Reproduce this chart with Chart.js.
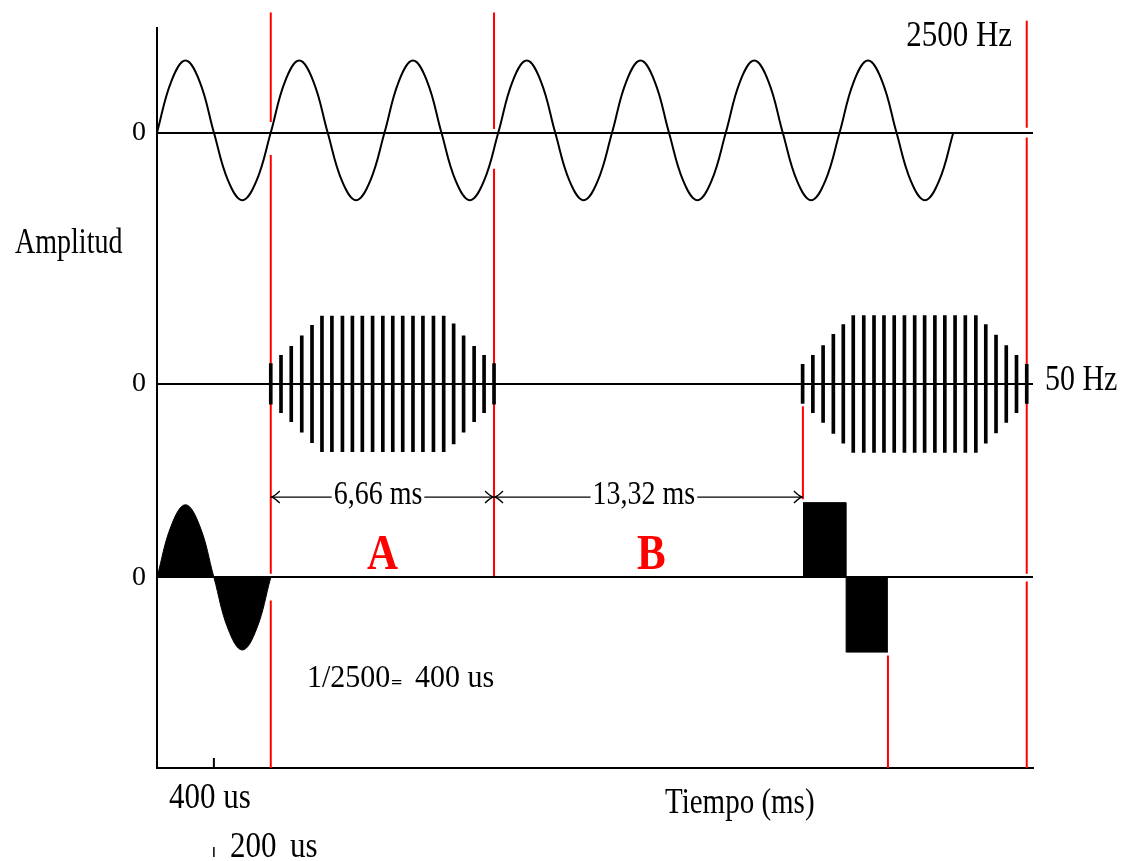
<!DOCTYPE html>
<html lang="es">
<head>
<meta charset="utf-8">
<title>Amplitud / Tiempo</title>
<script src="https://cdn.jsdelivr.net/npm/chart.js@4.4.1/dist/chart.umd.min.js"></script>
<style>
  html, body { margin:0; padding:0; background:#fff; }
  canvas { display:block; }
</style>
</head>
<body>
<canvas id="grafico" width="1127" height="861"></canvas>
<script>
/* =================== Datos =================== */
// tiempo en us del esquema (periodo de 2500 Hz = 400 us), amplitud en unidades de onda
const T_MAX = 3080, Y_MAX = 10.6;
const ceros = [9.1, 5.5, 2.73]; // nivel "0" de: 2500 Hz, 50 Hz, salida

// portadora 2500 Hz: lecturas cada octavo de periodo
const portadoraT = [0,50,100,150,200,250,300,350, 400,450,500,550,600,650,700,750,
  800,850,900,950,1000,1050,1100,1150, 1200,1250,1300,1350,1400,1450,1500,1550,
  1600,1650,1700,1750,1800,1850,1900,1950, 2000,2050,2100,2150,2200,2250,2300,2350,
  2400,2450,2500,2550,2600,2650,2700,2750, 2800];
const portadoraA = [0,0.73,1.03,0.73,0,-0.69,-0.97,-0.69, 0,0.73,1.03,0.73,0,-0.69,-0.97,-0.69,
  0,0.73,1.03,0.73,0,-0.69,-0.97,-0.69, 0,0.73,1.03,0.73,0,-0.69,-0.97,-0.69,
  0,0.73,1.03,0.73,0,-0.69,-0.97,-0.69, 0,0.73,1.03,0.73,0,-0.69,-0.97,-0.69,
  0,0.73,1.03,0.73,0,-0.69,-0.97,-0.69, 0];

// rafagas de 50 Hz (posicion de cada trazo y semialtura de la envolvente)
const rafaga1T = [400,436,472,509,545,580,615,652,687,722,758,794,829,864,900,935,972,1008,1043,1078,1115,1150,1185];
const rafaga1A = [0.29,0.41,0.54,0.69,0.84,0.97,0.97,0.97,0.97,0.97,0.97,0.97,0.97,0.97,0.97,0.97,0.97,0.97,0.86,0.69,0.54,0.41,0.29];
const rafaga2T = [2270,2306,2342,2378,2413,2448,2485,2521,2556,2592,2628,2664,2699,2735,2770,2806,2842,2879,2914,2950,2986,3022,3058];
const rafaga2A = [0.28,0.41,0.55,0.71,0.85,0.98,0.98,0.98,0.98,0.98,0.98,0.98,0.98,0.98,0.98,0.98,0.98,0.98,0.85,0.70,0.55,0.41,0.28];

// un ciclo de 2500 Hz (salida, relleno)
const cicloT = [0,50,100,150,200,250,300,350,400];
const cicloA = [0,0.74,1.04,0.74,0,-0.74,-1.04,-0.74,0];

// pulso cuadrado de salida
const pulsoT = [2271,2423,2570];
const pulsoA = [1.07,-1.07,-1.07];

// marcas verticales rojas: instante y tramos visibles [desde, hasta]
const marcasT = [400, 1185, 2271, 2570, 3058];
const marcasTramos = [
  [[10.82,9.25],[8.78,2.78],[2.40,0]],
  [[10.82,9.15],[8.58,2.75]],
  [[5.18,3.85]],
  [[1.61,0]],
  [[10.70,9.17],[9.03,2.78],[2.67,0]]
];

/* =================== Textos =================== */
const SERIF = '"Liberation Serif", "Times New Roman", serif';
const notas = [
  {txt:'2500 Hz', t:2634, a:10.34, size:31, sy:1.17},
  {txt:'Amplitud', t:-499, a:7.38, size:28, sy:1.3},
  {txt:'50 Hz', t:3122, a:5.41, size:30, sy:1.18},
  {txt:'A', t:738, a:2.85, size:43, sy:1.2, bold:true, color:'#ff0000'},
  {txt:'B', t:1688, a:2.85, size:43, sy:1.2, bold:true, color:'#ff0000'},
  {txt:'1/2500', t:527, a:1.16, size:30, sy:1.08},
  {txt:'=', t:823, a:1.14, size:20, sy:0.8, bold:true},
  {txt:'400 us', t:907, a:1.16, size:30, sy:1.08},
  {txt:'400 us', t:42, a:-0.57, size:31, sy:1.15},
  {txt:'200', t:257, a:-1.27, size:31, sy:1.15},
  {txt:'us', t:468, a:-1.27, size:31, sy:1.15},
  {txt:'Tiempo (ms)', t:1786, a:-0.64, size:29, sy:1.2}
];
const cotas = [
  {desde:400, hasta:1185, centro:777, nivel:3.88, txt:'6,66 ms'},
  {desde:1185, hasta:2271, centro:1712, nivel:3.88, txt:'13,32 ms'}
];

/* =================== Helpers =================== */
const serie = (ts, as, base) => ts.map((t,i)=>({x:t, y:base + as[i]}));
const barras = (ts, as, base) => ts.map((t,i)=>({x:t, y:[base - as[i], base + as[i]]}));
const tramos = (t, lista) => {
  const out = [];
  lista.forEach(([a,b])=>{ out.push({x:t,y:a},{x:t,y:b},{x:t,y:null}); });
  return out;
};

function dibujaTexto(ctx, n, px, py){
  ctx.save();
  ctx.font = `${n.bold ? 'bold ' : ''}${n.size}px ${SERIF}`;
  ctx.fillStyle = n.color || '#000';
  ctx.textAlign = n.align || 'left';
  ctx.textBaseline = 'alphabetic';
  ctx.translate(px, py);
  ctx.scale(1, n.sy || 1);
  ctx.fillText(n.txt, 0, 0);
  ctx.restore();
}

const anotaciones = {
  id:'anotaciones',
  afterDatasetsDraw(chart){
    const {ctx, scales:{x, y}} = chart;
    ctx.save();
    ctx.strokeStyle = '#000';
    ctx.lineCap = 'butt';

    // marca de 200 us sobre el eje y marquita junto a la etiqueta
    const p200 = x.getPixelForValue(200);
    ctx.lineWidth = 2;
    ctx.beginPath(); ctx.moveTo(p200, y.getPixelForValue(0)); ctx.lineTo(p200, y.getPixelForValue(0) - 10); ctx.stroke();
    ctx.lineWidth = 1.5;
    ctx.beginPath(); ctx.moveTo(p200, 847); ctx.lineTo(p200, 857); ctx.stroke();

    // cotas con flechas
    cotas.forEach(c=>{
      const x1 = x.getPixelForValue(c.desde), x2 = x.getPixelForValue(c.hasta);
      const py = y.getPixelForValue(c.nivel);
      ctx.lineWidth = 1.3;
      ctx.beginPath(); ctx.moveTo(x1, py); ctx.lineTo(x2, py); ctx.stroke();
      ctx.beginPath();
      ctx.moveTo(x1 + 9, py - 6); ctx.quadraticCurveTo(x1 + 4, py - 1, x1 + 1, py); ctx.quadraticCurveTo(x1 + 4, py + 1, x1 + 9, py + 6);
      ctx.moveTo(x2 - 9, py - 6); ctx.quadraticCurveTo(x2 - 4, py - 1, x2 - 1, py); ctx.quadraticCurveTo(x2 - 4, py + 1, x2 - 9, py + 6);
      ctx.stroke();
      ctx.font = `28px ${SERIF}`;
      const w = ctx.measureText(c.txt).width;
      const cx = x.getPixelForValue(c.centro);
      ctx.fillStyle = '#fff';
      ctx.fillRect(cx - w/2 - 2, py - 3, w + 4, 6);
      dibujaTexto(ctx, {txt:c.txt, size:28, sy:1.18, align:'center'}, cx, py + 7);
    });

    notas.forEach(n=> dibujaTexto(ctx, n, x.getPixelForValue(n.t), y.getPixelForValue(n.a)));
    ctx.restore();
  }
};

/* =================== Chart =================== */
const lineaNegra = {borderColor:'#000', borderWidth:2, pointRadius:0, fill:false};
const datasets = [
  {...lineaNegra, label:'2500 Hz', data: serie(portadoraT, portadoraA, ceros[0]), tension:0.4},
  {type:'bar', label:'50 Hz (1)', data: barras(rafaga1T, rafaga1A, ceros[1]), backgroundColor:'#000', barThickness:3, grouped:false},
  {type:'bar', label:'50 Hz (2)', data: barras(rafaga2T, rafaga2A, ceros[1]), backgroundColor:'#000', barThickness:3, grouped:false},
  {...lineaNegra, label:'ciclo', data: serie(cicloT, cicloA, ceros[2]), tension:0.4, borderWidth:1,
    fill:{value:ceros[2]}, backgroundColor:'#000'},
  {...lineaNegra, label:'pulso', data: serie(pulsoT, pulsoA, ceros[2]), stepped:true, borderWidth:1,
    fill:{value:ceros[2]}, backgroundColor:'#000'},
  ...marcasT.map((t,i)=>({label:'marca '+(i+1), data: tramos(t, marcasTramos[i]),
    borderColor:'#ff0000', borderWidth:2, pointRadius:0, spanGaps:false, clip:false, tension:0}))
];

new Chart(document.getElementById('grafico'), {
  type:'line',
  data:{ datasets },
  options:{
    responsive:false,
    devicePixelRatio:1,
    animation:false,
    layout:{ padding:{ left:0, top:25, right:94, bottom:0 } },
    plugins:{ legend:{display:false}, tooltip:{enabled:false} },
    scales:{
      x:{
        type:'linear', min:0, max:T_MAX, offset:false,
        grid:{ display:false },
        border:{ display:true, color:'#000', width:2 },
        ticks:{ display:false },
        afterFit: s => { s.height = 93; }
      },
      y:{
        type:'linear', min:0, max:Y_MAX,
        grid:{ color:'#000', lineWidth:2, drawTicks:false },
        border:{ display:true, color:'#000', width:2 },
        ticks:{ padding:11, color:'#000', font:{ family:SERIF, size:28 }, callback: () => '0' },
        afterBuildTicks: s => { s.ticks = ceros.map(v=>({value:v})); },
        afterFit: s => { s.width = 157; }
      }
    }
  },
  plugins:[anotaciones]
});
</script>
</body>
</html>
